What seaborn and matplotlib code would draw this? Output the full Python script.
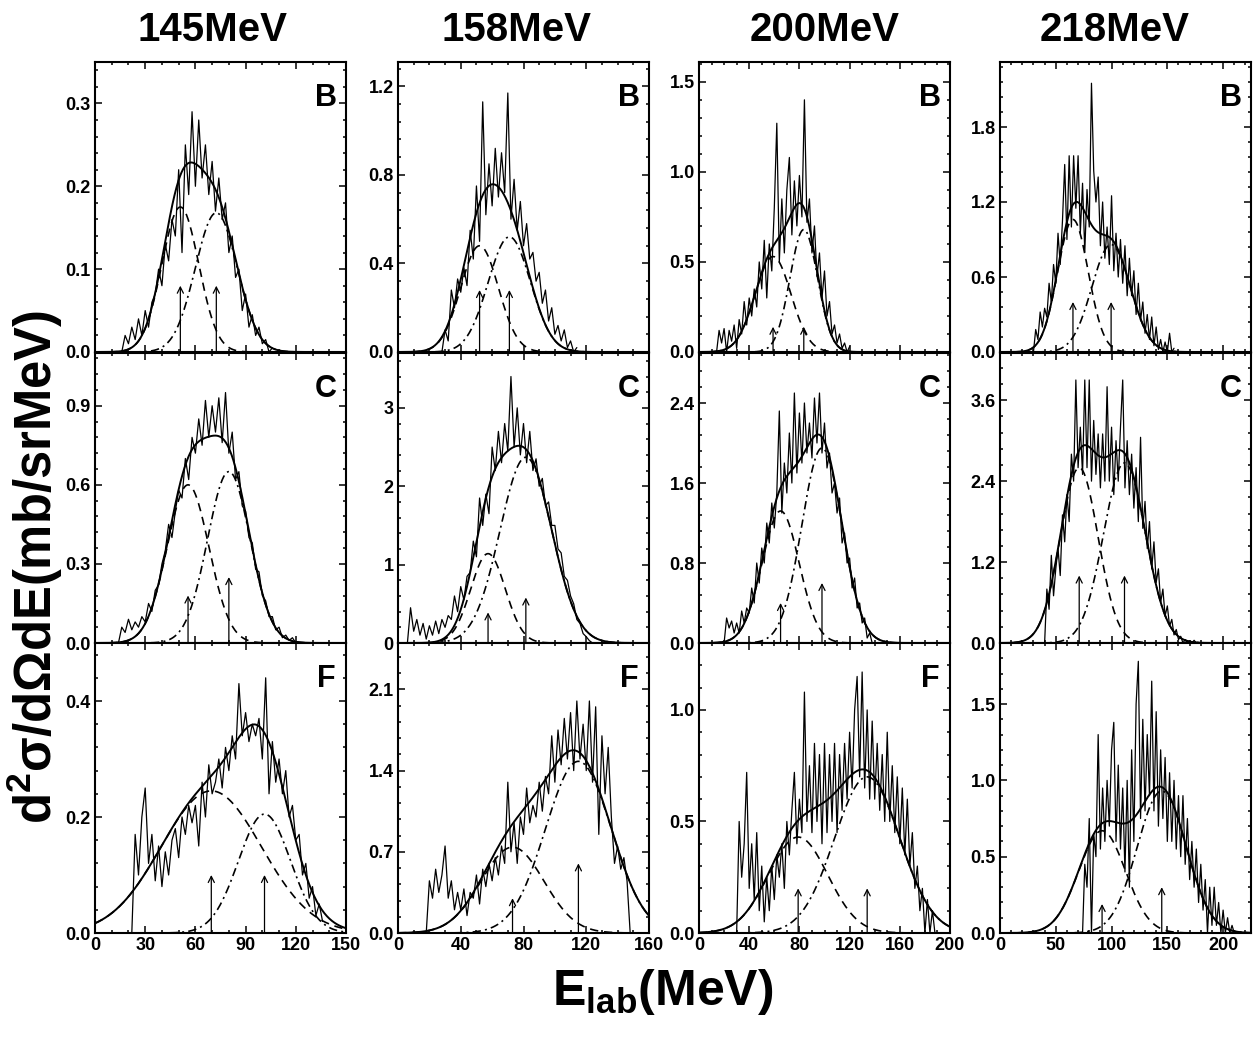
import numpy as np
import seaborn as sns
import matplotlib.pyplot as plt
from matplotlib.ticker import MultipleLocator, AutoMinorLocator, FormatStrFormatter

sns.set_style('ticks')
plt.rcParams['font.family'] = ['Liberation Sans', 'DejaVu Sans']
plt.rcParams['font.weight'] = 'bold'
plt.rcParams['mathtext.fontset'] = 'custom'
plt.rcParams['mathtext.rm'] = 'Liberation Sans:bold'
plt.rcParams['mathtext.it'] = 'Liberation Sans:bold'
plt.rcParams['mathtext.bf'] = 'Liberation Sans:bold'
plt.rcParams['text.color'] = 'black'
plt.rcParams['xtick.color'] = 'black'
plt.rcParams['ytick.color'] = 'black'
plt.rcParams['axes.labelcolor'] = 'black'

beams = ['145MeV', '158MeV', '200MeV', '218MeV']
letters = ['B', 'C', 'F']
x_max = [150, 160, 200, 225]
x_major = [30, 40, 40, 50]
x_minor = [3, 4, 4, 5]
# y range / major step per row (B, C, F) and column
y_max = [[0.35, 1.31, 1.61, 2.32],
         [1.10, 3.70, 2.90, 4.30],
         [0.50, 2.50, 1.30, 1.90]]
y_major = [[0.1, 0.4, 0.5, 0.6],
           [0.3, 1.0, 0.8, 1.2],
           [0.2, 0.7, 0.5, 0.5]]

STEP = 2  # MeV per channel of the read-off spectra

# measured spectra (first channel energy, counts every 2 MeV)
e0_B = [16, 28, 14, 30]
e0_C = [14, 6, 20, 40]
e0_F = [22, 18, 30, 74]

spec_145_B = [0.0, 0.02, 0.01, 0.03, 0.015, 0.04, 0.02, 0.05, 0.03, 0.06, 0.07, 0.1, 0.08, 0.13, 0.11, 0.16,
              0.14, 0.22, 0.12, 0.25, 0.19, 0.29, 0.2, 0.28, 0.21, 0.25, 0.19, 0.23, 0.17, 0.21, 0.16, 0.18,
              0.12, 0.14, 0.09, 0.1, 0.05, 0.07, 0.03, 0.045, 0.02, 0.03, 0.01, 0.015, 0.0, 0.005]
spec_158_B = [0.0, 0.1, 0.05, 0.28, 0.2, 0.33, 0.27, 0.38, 0.3, 0.55, 0.42, 0.75, 0.5, 1.13, 0.62, 0.85,
              0.66, 0.92, 0.7, 0.9, 0.72, 1.17, 0.6, 0.78, 0.55, 0.68, 0.48, 0.58, 0.42, 0.45, 0.32, 0.36,
              0.22, 0.28, 0.14, 0.2, 0.08, 0.12, 0.05, 0.1, 0.02, 0.05, 0.0, 0.02]
spec_200_B = [0.0, 0.12, 0.05, 0.13, 0.0, 0.12, 0.06, 0.15, 0.02, 0.18, 0.1, 0.28, 0.15, 0.3, 0.2, 0.35,
              0.25, 0.5, 0.35, 0.62, 0.3, 0.6, 0.45, 0.8, 1.27, 0.5, 0.85, 0.55, 0.9, 1.08, 0.65, 0.95,
              0.7, 0.98, 0.75, 1.4, 0.72, 0.85, 0.55, 0.7, 0.42, 0.55, 0.3, 0.45, 0.2, 0.28, 0.1, 0.15,
              0.05, 0.1, 0.02, 0.05, 0.0, 0.03]
spec_218_B = [0.0, 0.18, 0.1, 0.32, 0.2, 0.35, 0.28, 0.55, 0.4, 0.7, 0.55, 0.95, 0.7, 1.05, 1.5, 0.9,
              1.57, 1.0, 1.57, 1.15, 1.57, 0.95, 1.35, 0.8, 1.3, 1.0, 2.15, 1.45, 1.2, 1.4, 0.85, 1.2,
              0.75, 1.0, 0.7, 1.25, 0.65, 0.95, 0.6, 0.9, 0.55, 0.85, 0.45, 0.75, 0.45, 0.65, 0.3, 0.55,
              0.25, 0.4, 0.15, 0.3, 0.1, 0.28, 0.05, 0.2, 0.02, 0.1, 0.0, 0.08, 0.0, 0.15, 0.0, 0.03]

spec_145_C = [0.0, 0.06, 0.04, 0.09, 0.05, 0.08, 0.06, 0.1, 0.08, 0.15, 0.12, 0.2, 0.22, 0.3, 0.35, 0.45,
              0.4, 0.5, 0.58, 0.55, 0.7, 0.62, 0.78, 0.72, 0.85, 0.75, 0.92, 0.78, 0.9, 0.8, 0.93, 0.76,
              0.95, 0.72, 0.8, 0.62, 0.65, 0.52, 0.5, 0.4, 0.38, 0.28, 0.27, 0.18, 0.16, 0.1, 0.1, 0.05,
              0.06, 0.02, 0.03, 0.01, 0.02, 0.0]
spec_158_C = [0.0, 0.45, 0.15, 0.3, 0.1, 0.25, 0.05, 0.22, 0.1, 0.28, 0.12, 0.3, 0.2, 0.35, 0.3, 0.6,
              0.4, 0.72, 0.55, 0.85, 0.9, 1.3, 1.1, 1.85, 1.5, 1.9, 1.65, 2.5, 2.2, 2.7, 2.3, 2.8,
              2.45, 3.4, 2.5, 3.0, 2.4, 2.8, 2.3, 2.7, 2.2, 2.35, 2.0, 2.1, 1.75, 1.8, 1.5, 1.5,
              1.2, 1.15, 0.85, 0.8, 0.6, 0.5, 0.3, 0.25, 0.12, 0.08, 0.03, 0.0]
spec_200_C = [0.0, 0.25, 0.15, 0.22, 0.1, 0.2, 0.1, 0.32, 0.2, 0.35, 0.3, 0.55, 0.4, 0.8, 0.6, 0.95,
              0.8, 1.2, 1.0, 1.4, 1.15, 1.5, 2.32, 1.3, 1.8, 1.5, 2.1, 1.6, 2.5, 1.7, 2.3, 1.8,
              2.4, 1.9, 2.2, 1.85, 2.45, 2.0, 2.5, 1.9, 2.2, 1.75, 1.9, 1.5, 1.6, 1.3, 1.45, 1.0,
              1.1, 0.8, 0.85, 0.55, 0.65, 0.35, 0.4, 0.2, 0.25, 0.05, 0.1, 0.0]
spec_218_C = [0.0, 0.8, 0.5, 1.3, 0.7, 1.1, 1.4, 1.0, 1.9, 1.5, 2.2, 1.8, 2.8, 2.4, 3.9, 2.6,
              3.2, 2.5, 3.9, 2.6, 3.9, 2.4, 3.3, 2.5, 3.1, 2.3, 3.1, 2.4, 3.8, 2.4, 3.2, 2.2,
              3.0, 2.4, 3.2, 3.9, 2.3, 3.0, 2.2, 2.8, 2.0, 2.6, 1.8, 3.05, 1.7, 2.1, 1.4, 1.8,
              1.1, 1.5, 0.9, 1.1, 0.6, 0.8, 0.4, 0.55, 0.25, 0.35, 0.12, 0.2, 0.05, 0.1, 0.0, 0.05,
              0.0, 0.03, 0.0, 0.04, 0.0]

spec_145_F = [0.0, 0.17, 0.1, 0.2, 0.25, 0.12, 0.17, 0.09, 0.15, 0.08, 0.14, 0.1, 0.16, 0.18, 0.13, 0.2,
              0.17, 0.22, 0.19, 0.22, 0.15, 0.26, 0.2, 0.29, 0.24, 0.26, 0.3, 0.25, 0.32, 0.28, 0.34, 0.3,
              0.43, 0.34, 0.38, 0.33, 0.36, 0.34, 0.37, 0.3, 0.44, 0.24, 0.33, 0.26, 0.3, 0.24, 0.28, 0.2,
              0.22, 0.16, 0.17, 0.1, 0.12, 0.06, 0.08, 0.03, 0.05, 0.02]
spec_158_F = [0.0, 0.45, 0.3, 0.55, 0.35, 0.5, 0.75, 0.3, 0.45, 0.2, 0.35, 0.2, 0.38, 0.15, 0.35, 0.3,
              0.5, 0.25, 0.55, 0.4, 0.6, 0.45, 0.65, 0.5, 0.75, 0.6, 1.3, 0.7, 0.95, 0.6, 1.0, 0.85,
              1.25, 0.95, 1.1, 1.0, 1.3, 1.05, 1.35, 1.2, 1.7, 1.3, 1.75, 1.45, 1.85, 1.5, 1.9, 1.4,
              2.0, 1.5, 1.8, 1.4, 2.0, 1.3, 1.95, 0.85, 1.7, 1.2, 1.6, 1.0, 0.6, 0.75, 0.55, 0.65,
              0.45, 0.0]
spec_200_F = [0.0, 0.5, 0.25, 0.4, 0.72, 0.2, 0.4, 0.15, 0.45, 0.1, 0.3, 0.05, 0.25, 0.1, 0.3, 0.15,
              0.35, 0.25, 0.4, 0.2, 0.5, 0.35, 0.55, 0.72, 0.4, 0.6, 0.45, 1.08, 0.5, 0.75, 0.45, 0.85,
              0.5, 0.8, 0.4, 0.85, 0.45, 0.8, 0.5, 0.85, 0.45, 0.8, 0.55, 0.85, 0.6, 0.9, 0.65, 1.0,
              1.15, 0.7, 1.17, 0.65, 1.0, 0.6, 0.95, 0.6, 0.85, 0.55, 0.8, 0.5, 0.9, 0.5, 0.75, 0.45,
              0.7, 0.4, 0.65, 0.35, 0.6, 0.3, 0.45, 0.2, 0.3, 0.1, 0.2, 0.0, 0.15, 0.0, 0.1, 0.0]
spec_218_F = [0.0, 0.45, 0.3, 0.75, 0.0, 0.65, 0.5, 1.3, 0.55, 0.95, 0.6, 1.0, 0.7, 1.2, 1.38, 0.6,
              1.1, 0.55, 0.95, 0.4, 1.0, 0.3, 1.2, 0.6, 1.5, 1.78, 0.75, 1.4, 0.8, 1.3, 0.9, 1.65,
              0.8, 1.45, 0.7, 1.2, 0.75, 1.15, 0.6, 1.05, 0.6, 1.0, 0.55, 0.9, 0.5, 0.9, 0.45, 0.75,
              0.35, 0.6, 0.3, 0.55, 0.2, 0.45, 0.15, 0.35, 0.0, 0.3, 0.05, 0.3, 0.05, 0.2, 0.0, 0.15,
              0.0, 0.1, 0.0, 0.05, 0.0, 0.0]

# two-source fits: (centroid MeV, width MeV, height) for low / high energy component
fit_B = [[(51, 11, 0.175), (72.5, 12.5, 0.168)],
         [(52, 12, 0.48), (71, 13.5, 0.52)],
         [(59, 14.3, 0.53), (83.5, 11, 0.68)],
         [(65.4, 13.7, 1.06), (99.6, 17.2, 0.86)]]
fit_C = [[(55.6, 12.5, 0.6), (80, 12.7, 0.65)],
         [(57.4, 11, 1.14), (81.5, 16.5, 2.37)],
         [(65, 14.8, 1.32), (98, 16, 1.95)],
         [(71, 16.9, 2.6), (111.6, 18.8, 2.67)]]
fit_F = [[(69.5, 30, 0.245), (101.3, 15.6, 0.205)],
         [(73, 20, 0.74), (115, 21, 1.48)],
         [(79, 23.6, 0.43), (134, 26, 0.7)],
         [(91.5, 21, 0.67), (145, 22, 0.93)]]
# arrow lengths marking the centroids
arrow_B = [(0.08, 0.08), (0.28, 0.28), (0.14, 0.14), (0.4, 0.4)]
arrow_C = [(0.18, 0.25), (0.39, 0.58), (0.4, 0.6), (1.0, 1.0)]
arrow_F = [(0.1, 0.1), (0.3, 0.6), (0.2, 0.2), (0.19, 0.3)]

spectra = [[(e0_B[0], spec_145_B), (e0_B[1], spec_158_B), (e0_B[2], spec_200_B), (e0_B[3], spec_218_B)],
           [(e0_C[0], spec_145_C), (e0_C[1], spec_158_C), (e0_C[2], spec_200_C), (e0_C[3], spec_218_C)],
           [(e0_F[0], spec_145_F), (e0_F[1], spec_158_F), (e0_F[2], spec_200_F), (e0_F[3], spec_218_F)]]
fits = [fit_B, fit_C, fit_F]
arrows = [arrow_B, arrow_C, arrow_F]


def gauss(x, c, s, a):
  return a * np.exp(-(x - c) ** 2 / (2 * s ** 2))


W, H = 1259, 1048
fig = plt.figure(figsize=(W / 100, H / 100), dpi=100)

col_left = [95, 398, 699, 1000]
row_top = [62, 353, 643]
ax_w, ax_h = 251, 290

for r in range(3):
  for c in range(4):
    ax = fig.add_axes([col_left[c] / W, 1 - (row_top[r] + ax_h) / H, ax_w / W, ax_h / H])
    e_start, counts = spectra[r][c]
    energy = e_start + STEP * np.arange(len(counts))
    sns.lineplot(x=energy, y=counts, ax=ax, color='k', lw=0.9, estimator=None, sort=False)

    grid = np.linspace(0, x_max[c], 500)
    g1, g2 = fits[r][c]
    comp1 = gauss(grid, *g1)
    comp2 = gauss(grid, *g2)
    sns.lineplot(x=grid, y=comp1 + comp2, ax=ax, color='k', lw=1.4, estimator=None, sort=False)
    sns.lineplot(x=grid, y=comp1, ax=ax, color='k', lw=1.2, linestyle=(0, (5, 3.5)),
                 estimator=None, sort=False)
    sns.lineplot(x=grid, y=comp2, ax=ax, color='k', lw=1.2, linestyle=(0, (5, 2.5, 1.2, 2.5)),
                 estimator=None, sort=False)

    for (cen, _, _), h in zip(fits[r][c], arrows[r][c]):
      ax.annotate('', xy=(cen, h), xytext=(cen, 0),
                  arrowprops=dict(arrowstyle='->', color='k', lw=0.9, shrinkA=0, shrinkB=0,
                                  mutation_scale=11))

    ax.set_xlim(0, x_max[c])
    ax.set_ylim(0, y_max[r][c])
    ax.xaxis.set_major_locator(MultipleLocator(x_major[c]))
    ax.xaxis.set_minor_locator(AutoMinorLocator(x_minor[c]))
    ax.yaxis.set_major_locator(MultipleLocator(y_major[r][c]))
    ax.yaxis.set_minor_locator(AutoMinorLocator(5))
    if float(y_major[r][c]).is_integer():
      ax.yaxis.set_major_formatter(FormatStrFormatter('%d'))
    else:
      ax.yaxis.set_major_formatter(FormatStrFormatter('%.1f'))
    ax.tick_params(which='both', direction='in', top=True, right=True, width=1.1,
                   labelsize=13, pad=3, colors='black')
    ax.tick_params(which='major', length=5)
    ax.tick_params(which='minor', length=2.5)
    ax.tick_params(labelbottom=(r == 2))
    for lab in ax.get_xticklabels() + ax.get_yticklabels():
      lab.set_fontweight('bold')
    for sp in ax.spines.values():
      sp.set_linewidth(1.5)
      sp.set_color('k')
    ax.set_xlabel('')
    ax.set_ylabel('')
    ax.text(0.92, 0.875, letters[r], transform=ax.transAxes, ha='center', va='center',
            fontsize=22, fontweight='bold')

title_x = [212, 517, 825, 1115]
for c in range(4):
  fig.text(title_x[c] / W, 1 - 30 / H, beams[c], ha='center', va='center',
           fontsize=29, fontweight='bold')

fig.text(35 / W, 1 - 567 / H, r'$\mathrm{d}^{2}$σ/dΩdE(mb/srMeV)', rotation=90,
         ha='center', va='center', fontsize=36.5, fontweight='bold')
fig.text(663 / W, 1 - 1005 / H, r'$\mathrm{E}_{\mathrm{lab}}$(MeV)', ha='center', va='baseline',
         fontsize=36, fontweight='bold')

fig.savefig('out.png', dpi=100)
